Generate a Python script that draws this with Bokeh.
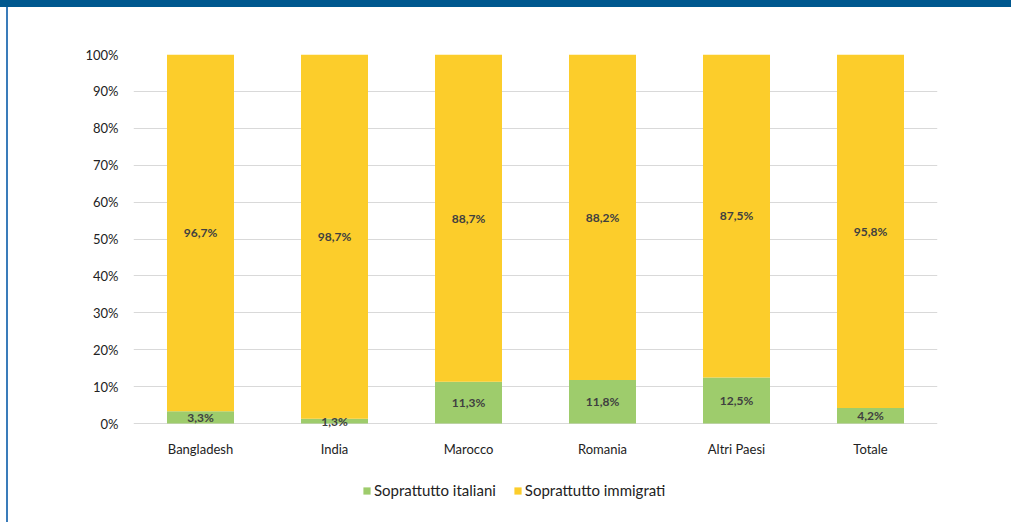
from bokeh.plotting import figure
from bokeh.models import Range1d, FixedTicker, NumeralTickFormatter, Legend, LegendItem, ColumnDataSource
from bokeh.core.properties import value
from bokeh.embed import file_html
from bokeh.resources import INLINE

categories = ["Bangladesh", "India", "Marocco", "Romania", "Altri Paesi", "Totale"]
italiani = [3.3, 1.3, 11.3, 11.8, 12.5, 4.2]
immigrati = [96.7, 98.7, 88.7, 88.2, 87.5, 95.8]
series_names = ["Soprattutto italiani", "Soprattutto immigrati"]
y_ticks = [0, 0.1, 0.2, 0.3, 0.4, 0.5, 0.6, 0.7, 0.8, 0.9, 1.0]

GREEN = "#9ecc6c"
YELLOW = "#fccd2b"
FONT = "Lato"

def fmt(v):
    return f"{v:.1f}".replace(".", ",") + "%"

src = ColumnDataSource(dict(
    cat=categories,
    ita=[v / 100 for v in italiani],
    imm=[v / 100 for v in immigrati],
))

# frame: top (100%) at y=54, 0% at y=423, frame extended down to y=515 for the legend
p = figure(x_range=categories, y_range=Range1d(-92 / 369, 1), width=1011, height=522,
           output_backend="svg", toolbar_location=None,
           min_border_left=133, min_border_right=74, min_border_top=54, min_border_bottom=7,
           border_fill_color=None, background_fill_color=None, outline_line_color=None)
p.styles = {
    "background": "linear-gradient(#00588f,#00588f) 0 0 / 100% 7px no-repeat, "
                  "linear-gradient(#3a7cba,#3a7cba) 6px 0 / 2px 100% no-repeat, #ffffff",
}

rs = p.vbar_stack(["ita", "imm"], x="cat", width=0.5, source=src,
                  color=[GREEN, YELLOW], line_color=None)

# labels
ita_mid = [v / 200 for v in italiani]
imm_mid = [(a + b / 2) / 100 for a, b in zip(italiani, immigrati)]
p.text(x=categories, y=ita_mid, text=[fmt(v) for v in italiani],
       text_align="center", text_baseline="middle", text_font=value(FONT),
       text_font_size="12px", text_font_style="bold", text_color="#404040")
p.text(x=categories, y=imm_mid, text=[fmt(v) for v in immigrati],
       text_align="center", text_baseline="middle", text_font=value(FONT),
       text_font_size="12px", text_font_style="bold", text_color="#404040")

# axes
p.xaxis.fixed_location = 0
p.yaxis.ticker = FixedTicker(ticks=y_ticks)
p.yaxis.formatter = NumeralTickFormatter(format="0%")
for ax in (p.xaxis[0], p.yaxis[0]):
    ax.axis_line_color = None
    ax.major_tick_line_color = None
    ax.minor_tick_line_color = None
    ax.major_tick_in = 0
    ax.major_tick_out = 0
    ax.minor_tick_out = 0
    ax.major_label_text_font = FONT
    ax.major_label_text_font_size = "13px"
    ax.major_label_text_color = "#222222"
p.yaxis.major_label_standoff = 15
p.xaxis.major_label_standoff = 17

p.xgrid.grid_line_color = None
p.ygrid.grid_line_color = "#d9d9d9"
p.ygrid.grid_line_width = 1
p.ygrid.ticker = FixedTicker(ticks=y_ticks)

legend = Legend(items=[LegendItem(label=series_names[0], renderers=[rs[0]]),
                       LegendItem(label=series_names[1], renderers=[rs[1]])],
                orientation="horizontal", location=(229, 16))
legend.background_fill_alpha = 0
legend.border_line_color = None
legend.padding = 0
legend.margin = 0
legend.spacing = 17
legend.label_standoff = 3
legend.glyph_width = 9
legend.glyph_height = 9
legend.label_height = 9
legend.label_text_font = FONT
legend.label_text_font_size = "15px"
legend.label_text_color = "#222222"
p.add_layout(legend)

open("out.html", "w").write(file_html(p, INLINE))
